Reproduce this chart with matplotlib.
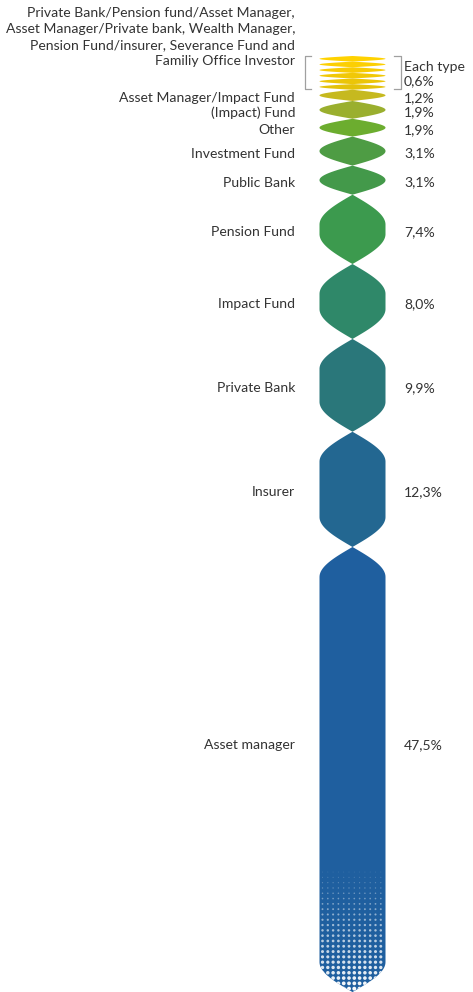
import numpy as np
import matplotlib
matplotlib.use("Agg")
import matplotlib.pyplot as plt
from matplotlib.patches import Polygon

plt.rcParams['font.family'] = ['Lato', 'DejaVu Sans']

# ---------------- data ----------------
group_label = ("Private Bank/Pension fund/Asset Manager,\n"
               "Asset Manager/Private bank, Wealth Manager,\n"
               "Pension Fund/insurer, Severance Fund and\n"
               "Familiy Office Investor")
group_count = 6
group_share = 0.6
group_value_label = "Each type\n0,6%"

categories = ["Asset Manager/Impact Fund", "(Impact) Fund", "Other",
              "Investment Fund", "Public Bank", "Pension Fund",
              "Impact Fund", "Private Bank", "Insurer", "Asset manager"]
shares = [1.2, 1.9, 1.9, 3.1, 3.1, 7.4, 8.0, 9.9, 12.3, 47.5]
share_labels = ["1,2%", "1,9%", "1,9%", "3,1%", "3,1%", "7,4%",
                "8,0%", "9,9%", "12,3%", "47,5%"]

# ---------------- styles ----------------
group_colors = ["#FFD200", "#FCCF02", "#F7CB04", "#F1C806", "#EBC508", "#E4C20B"]
colors = ["#C6B91F", "#9AAF2E", "#6CAD2F", "#4E9C44", "#43994A", "#3C9A4E",
          "#2F8869", "#2A777A", "#236791", "#1F5F9F"]
text_color = "#333333"
bracket_color = "#A0A0A0"
fs = 10.1

W = 473
H = 992
fig = plt.figure(figsize=(W / 100, H / 100), dpi=100)
ax = fig.add_axes([0, 0, 1, 1])
ax.set_xlim(0, W)
px_per_pct = 9.37
top_px = 56
ax.set_ylim((H - top_px) / px_per_pct, -top_px / px_per_pct)
ax.axis("off")

xc = 352.5
half_w = 33.0
cap = 30 / px_per_pct
txt_off = 2.5 / px_per_pct


def shape(y0, y1):
    ys = np.linspace(y0, y1, 400)
    c = min((y1 - y0) / 2, cap)
    d = np.minimum(ys - y0, y1 - ys)
    hw = half_w * np.sin(np.pi / 2 * np.minimum(d / c, 1.0))
    xs = np.concatenate([xc + hw, (xc - hw)[::-1]])
    yy = np.concatenate([ys, ys[::-1]])
    return np.column_stack([xs, yy])


# group lenses
y = 0.0
group_start = y
for i in range(group_count):
    p = Polygon(shape(y, y + group_share), closed=True, facecolor=group_colors[i],
                edgecolor="none")
    ax.add_patch(p)
    y += group_share
group_end = y

# group label and brackets
ax.text(295, group_start - 19 / px_per_pct, group_label, ha="right", va="center",
        fontsize=fs, color=text_color, linespacing=1.42)
ax.text(404, (group_start + group_end) / 2 + 1.0 / px_per_pct, group_value_label,
        ha="left", va="center", fontsize=fs, color=text_color, linespacing=1.2)
b0 = group_start + 0.05
b1 = group_end - 0.1
ax.plot([311, 304.5, 304.5, 311], [b0, b0, b1, b1], color=bracket_color, lw=0.9)
ax.plot([394, 400.5, 400.5, 394], [b0, b0, b1, b1], color=bracket_color, lw=0.9)

last_patch = None
for i, (cat, s, lab) in enumerate(zip(categories, shares, share_labels)):
    last = i == len(categories) - 1
    p = Polygon(shape(y, y + s), closed=True,
                facecolor=colors[i], edgecolor="none")
    ax.add_patch(p)
    if last:
        last_patch = p
        ly = y + s * 0.445
    else:
        ly = y + s / 2 + txt_off
    ax.text(295, ly, cat, ha="right", va="center", fontsize=fs, color=text_color)
    ax.text(404, ly, lab, ha="left", va="center", fontsize=fs, color=text_color)
    y += s

# halftone fade at the bottom of the last shape
y_end = y
fade_top = y_end - 120 / px_per_pct
gx = np.arange(xc - half_w + 3, xc + half_w, 5.3)
gy = np.arange(fade_top, y_end + 0.5, 5.3 / px_per_pct)
XX, YY = np.meshgrid(gx, gy)
frac = np.clip((YY - fade_top) / (y_end - fade_top), 0, 1).ravel()
diam_px = 1.0 + 3.0 * frac
sizes = (diam_px * 0.72) ** 2
rgba = np.zeros((frac.size, 4))
rgba[:, :3] = 1.0
rgba[:, 3] = 0.12 + 0.88 * frac ** 0.8
sc = ax.scatter(XX.ravel(), YY.ravel(), s=sizes, c=rgba,
                linewidths=0, zorder=3, marker="o")
sc.set_clip_path(last_patch)

fig.savefig("out.png", dpi=100)
